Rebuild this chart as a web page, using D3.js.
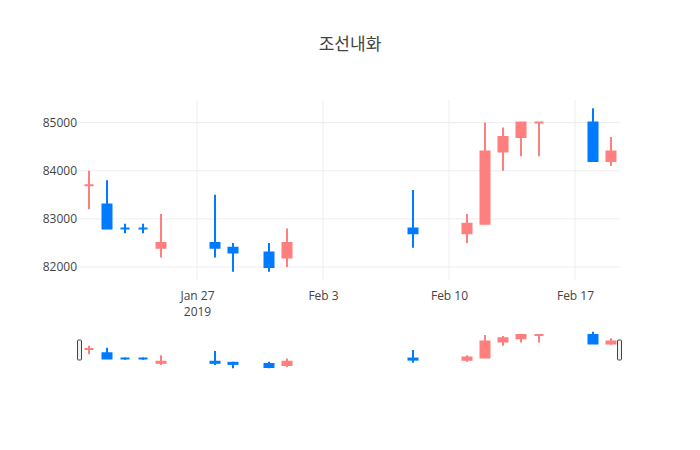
<!DOCTYPE html>
<html>
<head>
<meta charset="utf-8">
<script src="https://cdn.jsdelivr.net/npm/d3@7"></script>
<style>
  body { margin: 0; background: #fff; }
  svg { font-family: "Open Sans", "Noto Sans CJK KR", sans-serif; }
</style>
</head>
<body>
<div id="chart"></div>
<script>
var title = "조선내화"

var dates = ["2019-01-21", "2019-01-22", "2019-01-23", "2019-01-24", "2019-01-25",
             "2019-01-28", "2019-01-29", "2019-01-31", "2019-02-01", "2019-02-08",
             "2019-02-11", "2019-02-12", "2019-02-13", "2019-02-14", "2019-02-15",
             "2019-02-18", "2019-02-19"]
var opens  = [83700, 83300, 82800, 82800, 82400, 82500, 82400, 82300, 82200, 82800, 82700, 82900, 84400, 84700, 85000, 85000, 84200]
var highs  = [84000, 83800, 82900, 82900, 83100, 83500, 82500, 82500, 82800, 83600, 83100, 85000, 84900, 85000, 85000, 85300, 84700]
var lows   = [83200, 82800, 82700, 82700, 82200, 82200, 81900, 81900, 82000, 82400, 82500, 82900, 84000, 84300, 84300, 84200, 84100]
var closes = [83700, 82800, 82800, 82800, 82500, 82400, 82300, 82000, 82500, 82700, 82900, 84400, 84700, 85000, 85000, 84200, 84400]

var yTicks = [82000, 83000, 84000, 85000]
var xTicks = ["2019-01-27", "2019-02-03", "2019-02-10", "2019-02-17"]

var incColor = "#ff7f7f"
var decColor = "#007bff"

var width = 700, height = 450
var margin = {top: 100, left: 80, right: 80}
var plotBottom = 280
var sliderTop = 330, sliderBottom = 370

var parse = d3.timeParse("%Y-%m-%d")

// direction like plotly: equal open/close compares against previous close
var data = []
var prevDir = "inc"
for (var i = 0; i < dates.length; i++) {
  var dir
  if (closes[i] > opens[i]) dir = "inc"
  else if (closes[i] < opens[i]) dir = "dec"
  else if (i > 0 && closes[i] > closes[i-1]) dir = "inc"
  else if (i > 0 && closes[i] < closes[i-1]) dir = "dec"
  else dir = prevDir
  prevDir = dir
  data.push({date: parse(dates[i]), o: opens[i], h: highs[i], l: lows[i], c: closes[i], dir: dir})
}

var x0 = d3.timeHour.offset(data[0].date, -12)
var x1 = d3.timeHour.offset(data[data.length-1].date, 12)
var x = d3.scaleTime().domain([x0, x1]).range([margin.left, width - margin.right])

var lo = d3.min(lows), hi = d3.max(highs)
var pad = (hi - lo) * 0.05
var y = d3.scaleLinear().domain([lo - pad, hi + pad]).range([plotBottom, margin.top])
var ys = d3.scaleLinear().domain([lo - pad, hi + pad]).range([sliderBottom, sliderTop])

var dayPx = x(d3.timeDay.offset(x0, 1)) - x(x0)
var bodyW = dayPx * 0.5

var svg = d3.select("#chart").append("svg")
  .attr("width", width).attr("height", height)

// title
svg.append("text")
  .attr("x", width / 2).attr("y", 50)
  .attr("text-anchor", "middle")
  .attr("font-size", "17px")
  .attr("fill", "#444")
  .text(title)

// grid lines
svg.append("g").selectAll("line").data(xTicks).enter().append("line")
  .attr("x1", function(d) { return x(parse(d)) })
  .attr("x2", function(d) { return x(parse(d)) })
  .attr("y1", margin.top).attr("y2", plotBottom)
  .attr("stroke", "#eee").attr("stroke-width", 1)

svg.append("g").selectAll("line").data(yTicks).enter().append("line")
  .attr("x1", margin.left).attr("x2", width - margin.right)
  .attr("y1", function(d) { return y(d) })
  .attr("y2", function(d) { return y(d) })
  .attr("stroke", "#eee").attr("stroke-width", 1)

// y axis labels
var yAxis = svg.append("g")
  .attr("transform", "translate(" + margin.left + ",0)")
  .call(d3.axisLeft(y).tickValues(yTicks).tickSize(0).tickPadding(3).tickFormat(d3.format("d")))
yAxis.select(".domain").remove()
yAxis.selectAll("text").attr("font-size", "12px").attr("fill", "#444")
  .attr("font-family", "Open Sans")

// x axis labels
var xAxis = svg.append("g")
  .attr("transform", "translate(0," + plotBottom + ")")
  .call(d3.axisBottom(x).tickValues(xTicks.map(parse)).tickSize(0).tickPadding(11)
    .tickFormat(d3.timeFormat("%b %-d")))
xAxis.select(".domain").remove()
xAxis.selectAll("text").attr("font-size", "12px").attr("fill", "#444")
  .attr("font-family", "Open Sans")
xAxis.selectAll(".tick").filter(function(d, i) { return i === 0 })
  .select("text").append("tspan")
    .attr("x", 0).attr("dy", "1.4em")
    .text(d3.timeFormat("%Y")(parse(xTicks[0])))

function drawCandles(g, yScale) {
  var c = g.selectAll(".candle").data(data).enter().append("g").attr("class", "candle")
  c.append("line")
    .attr("x1", function(d) { return x(d.date) })
    .attr("x2", function(d) { return x(d.date) })
    .attr("y1", function(d) { return yScale(d.h) })
    .attr("y2", function(d) { return yScale(d.l) })
    .attr("stroke", function(d) { return d.dir === "inc" ? incColor : decColor })
    .attr("stroke-width", 2)
  // body as a path so a flat body (open == close) still draws its outline
  c.append("path")
    .attr("d", function(d) {
      var l = x(d.date) - bodyW / 2, r = x(d.date) + bodyW / 2
      var t = yScale(Math.max(d.o, d.c)), b = yScale(Math.min(d.o, d.c))
      return "M" + l + "," + t + "H" + r + "V" + b + "H" + l + "Z"
    })
    .attr("fill", function(d) { return d.dir === "inc" ? incColor : decColor })
    .attr("stroke", function(d) { return d.dir === "inc" ? incColor : decColor })
    .attr("stroke-width", 2)
}

drawCandles(svg.append("g"), y)

// range slider
var slider = svg.append("g")
drawCandles(slider, ys)
var grabH = (sliderBottom - sliderTop) / 2
;[x0, x1].forEach(function(d) {
  slider.append("rect")
    .attr("x", x(d) - 2.5).attr("width", 4)
    .attr("y", (sliderTop + sliderBottom) / 2 - grabH / 2).attr("height", grabH)
    .attr("rx", 1)
    .attr("fill", "#f2f2f2").attr("stroke", "#444").attr("stroke-width", 1)
})
</script>
</body>
</html>
